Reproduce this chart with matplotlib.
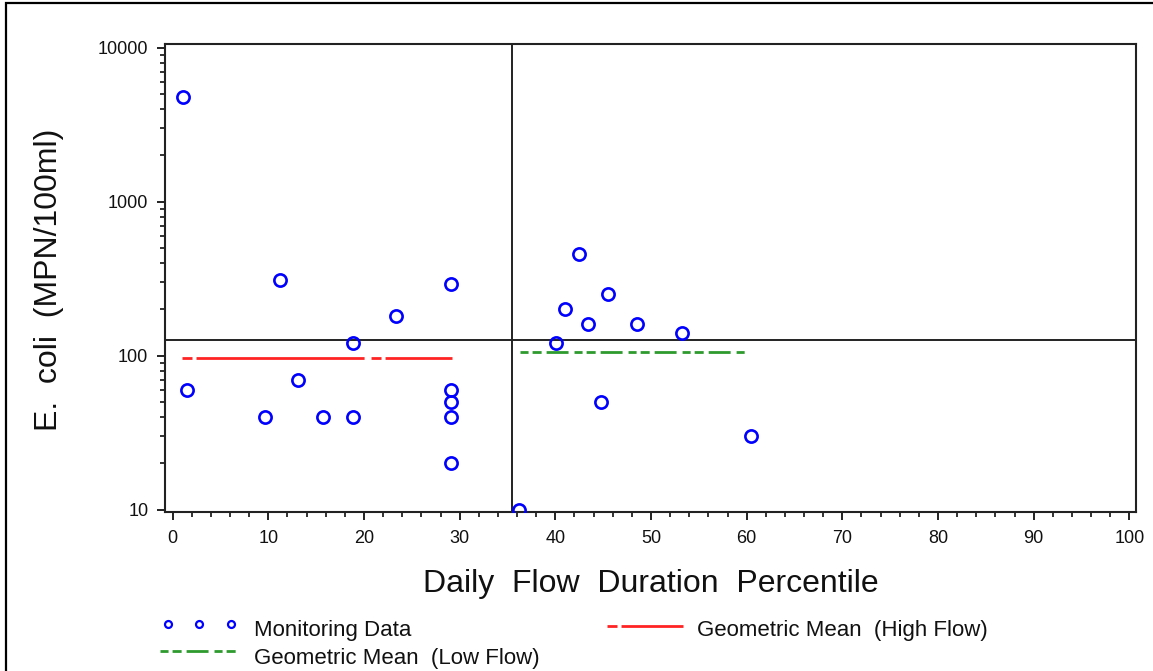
import numpy as np
import matplotlib
matplotlib.use('Agg')
import matplotlib.pyplot as plt
from matplotlib.lines import Line2D
from matplotlib.patches import Rectangle
from matplotlib.ticker import NullFormatter, FixedLocator

# ---------------- data ----------------
flow_pct = [1.1, 1.5, 9.7, 11.2, 13.1, 15.7, 18.8, 18.8, 23.3, 29.1, 29.1, 29.1, 29.1, 29.1,
            36.2, 40.1, 41.0, 42.5, 43.4, 44.8, 45.5, 48.5, 53.2, 60.5]
ecoli = [4800, 60, 40, 310, 70, 40, 120, 40, 180, 290, 60, 50, 40, 20,
         10, 120, 200, 460, 160, 50, 250, 160, 140, 30]

high_flow_mean = 97
high_flow_span = [0.94, 29.2]
low_flow_mean = 106
low_flow_span = [36.3, 60.1]

flow_split = 35.5
standard = 126

x_ticks = [0, 10, 20, 30, 40, 50, 60, 70, 80, 90, 100]
y_ticks = [10, 100, 1000, 10000]
y_tick_labels = ['10', '100', '1000', '10000']

legend_labels = ['Monitoring Data', 'Geometric Mean  (High Flow)', 'Geometric Mean  (Low Flow)']

# ---------------- style ----------------
plt.rcParams['font.family'] = ['Liberation Sans', 'DejaVu Sans']
plt.rcParams['lines.scale_dashes'] = False

W, H = 1153, 671
fig = plt.figure(figsize=(W / 100, H / 100), dpi=100)


def fx(px):
    return px / W


def fy(py):
    return 1 - py / H


RED = '#ff2424'
GREEN = '#2e9a2e'
BLUE = '#0000ff'
RED_DASH = [7.2, 2.9, 121, 5]
GREEN_DASH = [5.8, 2.9, 6.5, 3.6, 15.8, 4.3]

ax = fig.add_axes([fx(165), fy(512), fx(1136) - fx(165), fy(44.3) - fy(512)])
ax.set_yscale('log')
ax.set_xlim(-0.8, 100.7)
ax.set_ylim(10 ** 0.985, 10 ** 4.022)

ax.plot(flow_pct, ecoli, linestyle='none', marker='o', mfc='none', mec=BLUE,
        ms=8.8, mew=1.9, zorder=4)

ax.axvline(flow_split, color='#222222', lw=1.4, zorder=2)
ax.axhline(standard, color='#222222', lw=1.4, zorder=2)

ax.plot(high_flow_span, [high_flow_mean] * 2, color=RED, lw=2.0, dashes=RED_DASH, zorder=3)
ax.plot(low_flow_span, [low_flow_mean] * 2, color=GREEN, lw=2.0, dashes=GREEN_DASH, zorder=3)

ax.set_xticks(x_ticks)
ax.xaxis.set_minor_locator(FixedLocator(np.arange(0, 101, 2)))
ax.set_yticks(y_ticks)
ax.set_yticklabels(y_tick_labels)
minors = [m * 10 ** k for k in range(1, 4) for m in range(2, 10)]
ax.yaxis.set_minor_locator(FixedLocator(minors))
ax.yaxis.set_minor_formatter(NullFormatter())

ax.tick_params(which='major', direction='out', length=6, width=1.3, labelsize=13, colors='#111111')
ax.tick_params(axis='x', which='major', pad=7)
ax.tick_params(axis='y', which='major', pad=6)
ax.tick_params(which='minor', direction='out', length=3.5, width=1.2, colors='#111111')
for s in ax.spines.values():
    s.set_linewidth(1.5)
    s.set_color('#222222')

# axis labels
fig.text(fx(651), fy(592), 'Daily  Flow  Duration  Percentile', ha='center', va='baseline',
         fontsize=23, color='#111111')
fig.text(fx(57), fy(280), 'E.  coli  (MPN/100ml)', ha='center', va='baseline',
         rotation=90, rotation_mode='anchor', fontsize=23, color='#111111')

# legend (manual)
fig.add_artist(Line2D([fx(168), fx(199), fx(231)], [fy(624)] * 3, transform=fig.transFigure,
                      linestyle='none', marker='o', mfc='none', mec=BLUE, ms=5, mew=1.6))
fig.text(fx(254), fy(636), legend_labels[0], fontsize=16, va='baseline', color='#111111')

fig.add_artist(Line2D([fx(607), fx(683)], [fy(626)] * 2, transform=fig.transFigure,
                      color=RED, lw=2.0, dashes=RED_DASH))
fig.text(fx(697), fy(636), legend_labels[1], fontsize=16, va='baseline', color='#111111')

fig.add_artist(Line2D([fx(160), fx(240)], [fy(651)] * 2, transform=fig.transFigure,
                      color=GREEN, lw=2.0, dashes=GREEN_DASH))
fig.text(fx(254), fy(664), legend_labels[2], fontsize=16, va='baseline', color='#111111')

# outer frame
fig.add_artist(Rectangle((fx(6), -0.05), 1.2, fy(3) + 0.05, transform=fig.transFigure,
                         fill=False, lw=1.6, ec='black'))

fig.savefig('out.png', dpi=100)
